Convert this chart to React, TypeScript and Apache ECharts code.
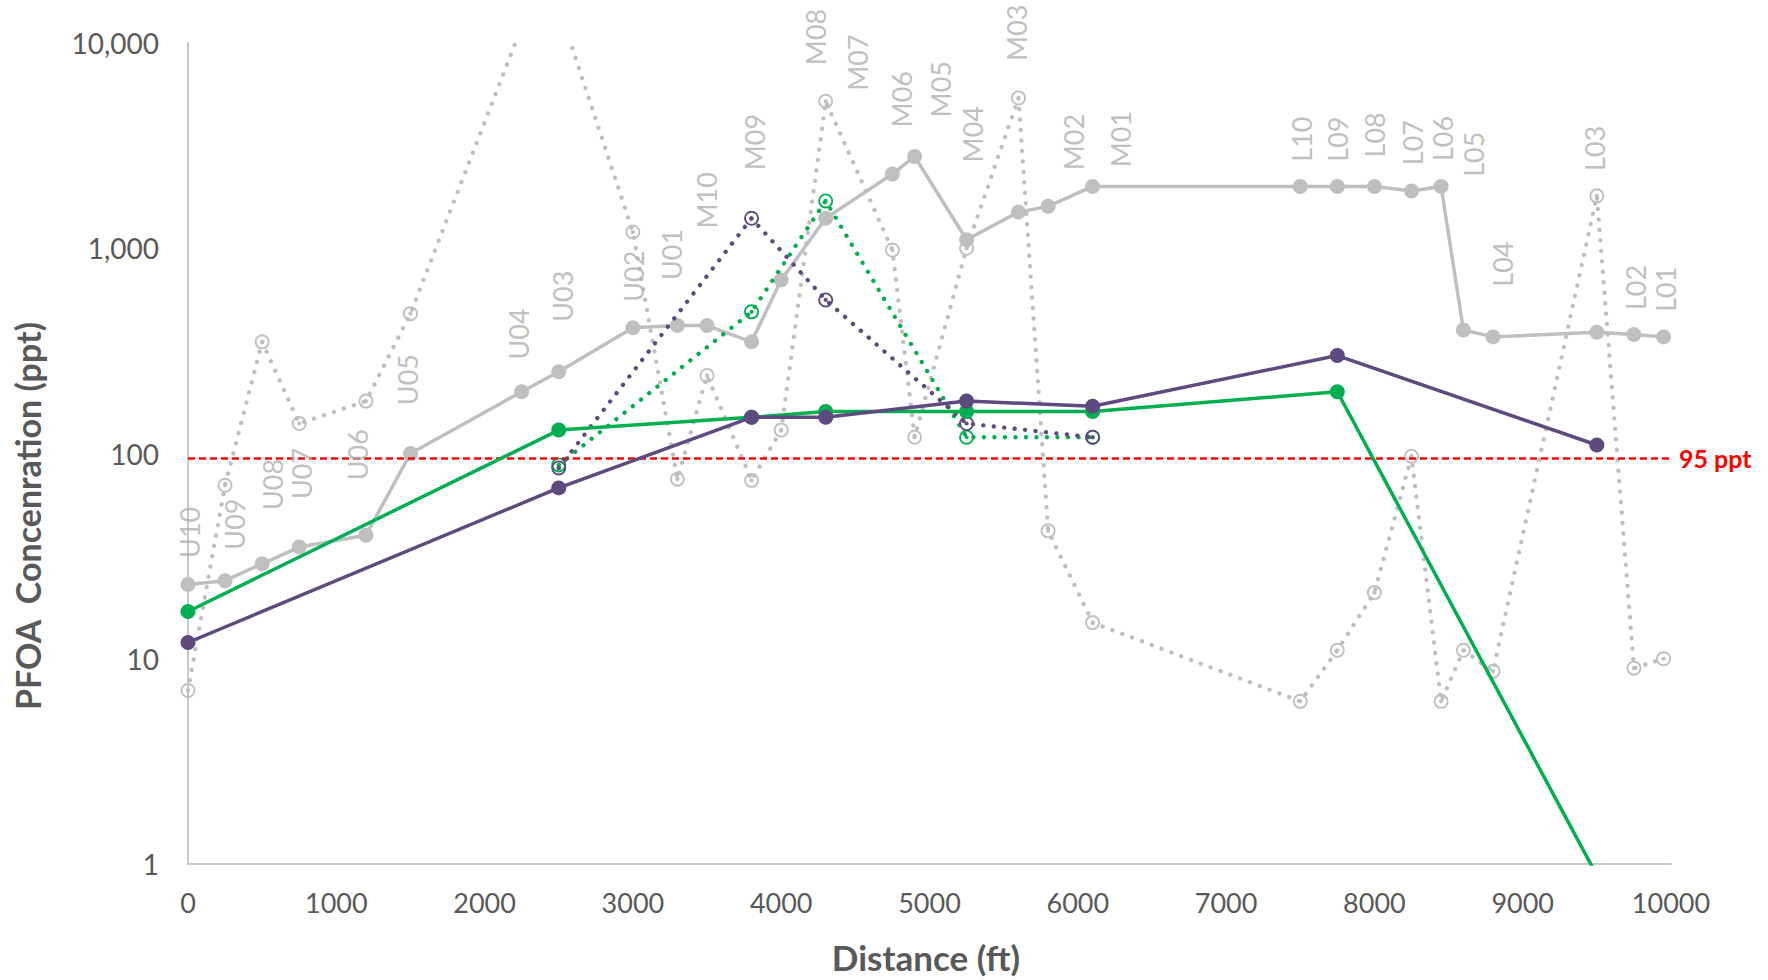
import React, { useEffect, useRef } from 'react';
import * as echarts from 'echarts';

// ---- Data ----
const stationNames = ['U10','U09','U08','U07','U06','U05','U04','U03','U02','U01','M10','M09','M08','M07','M06','M05','M04','M03','M02','M01','L10','L09','L08','L07','L06','L05','L04','L03','L02','L01'];
const stationDistance = [0, 250, 500, 750, 1200, 1500, 2250, 2500, 3000, 3300, 3500, 3800, 4000, 4300, 4750, 4900, 5250, 5600, 5800, 6100, 7500, 7750, 8000, 8250, 8450, 8600, 8800, 9500, 9750, 9950];
const graySolid = [23, 24, 29, 35, 40, 100, 200, 250, 410, 420, 420, 350, 700, 1400, 2300, 2800, 1100, 1500, 1600, 2000, 2000, 2000, 2000, 1900, 2000, 400, 370, 390, 380, 370];
const grayDotted = [7, 70, 350, 140, 180, 480, 12000, 15000, 1200, 75, 240, 74, 130, 5200, 980, 120, 1000, 5400, 42, 15, 6.2, 11, 21, 97, 6.2, 11, 8.7, 1800, 9, 10];

const sampleDistance = [0, 2500, 3800, 4300, 5250, 6100, 7750, 9500];
const purpleSolid = [12, 68, 150, 150, 180, 170, 300, 110];
const greenSolid = [17, 130, 150, 160, 160, 160, 200, 0.88];

const dottedDistance = [2500, 3800, 4300, 5250, 6100];
const purpleDotted = [85, 1400, 560, 140, 120];
const greenDotted = [88, 490, 1700, 120, 120];

const threshold = 95;
const xTicks = { min: 0, max: 10000, interval: 1000 };
const yTicks = { min: 1, max: 10000 };

// label anchors (where each station name sits), in chart units
const labelAnchorFt = [10, 316, 570, 768, 1142, 1478, 2227, 2524, 3007, 3260, 3498, 3820, 4234, 4513, 4810, 5073, 5293, 5584, 5972, 6290, 7507, 7754, 7999, 8258, 8459, 8666, 8862, 9485, 9758, 9960];
const labelAnchorPpt = [31, 34, 53, 60, 74, 172, 287, 438, 548, 700, 1248, 2400, 7800, 5850, 3880, 4340, 2620, 8180, 2400, 2480, 2640, 2640, 2770, 2540, 2660, 2230, 650, 2380, 500, 490];

// ---- Styles ----
const FONT = 'Lato';
const GRAY = '#BFBFBF';
const PURPLE = '#5E4A7F';
const GREEN = '#00B050';
const TEXT = '#595959';
const RING = 'path://M10 0A10 10 0 1 1 -10 0A10 10 0 1 1 10 0ZM7.5 0A7.5 7.5 0 1 0 -7.5 0A7.5 7.5 0 1 0 7.5 0ZM2.8 0A2.8 2.8 0 1 1 -2.8 0A2.8 2.8 0 1 1 2.8 0Z';
const DOTS = [0.1, 10.4];

const zip = (xs: number[], ys: number[]) => xs.map((x, i) => [x, ys[i]]);

function dottedSeries(name: string, xs: number[], ys: number[], color: string, z: number) {
  return {
    name,
    type: 'line',
    data: zip(xs, ys),
    symbol: RING,
    symbolSize: 15,
    showAllSymbol: true,
    itemStyle: { color, borderWidth: 0 },
    lineStyle: { color, width: 4.3, type: DOTS, cap: 'round' },
    z,
  };
}

function solidSeries(name: string, xs: number[], ys: number[], color: string, z: number) {
  return {
    name,
    type: 'line',
    data: zip(xs, ys),
    symbol: 'circle',
    symbolSize: 15,
    showAllSymbol: true,
    itemStyle: { color, borderWidth: 0 },
    lineStyle: { color, width: 3.5 },
    z,
  };
}

export default function App() {
  const ref = useRef<HTMLDivElement>(null);
  useEffect(() => {
    document.body.style.margin = '0';
    document.body.style.overflow = 'hidden';
    const chart = echarts.init(ref.current!, null, { renderer: 'svg' });
    const option: any = {
      animation: false,
      backgroundColor: '#ffffff',
      grid: { left: 188, right: 97, top: 43, bottom: 116, containLabel: false },
      xAxis: {
        type: 'value',
        min: xTicks.min,
        max: xTicks.max,
        interval: xTicks.interval,
        axisLine: { show: true, lineStyle: { color: '#C8C8C8', width: 2 } },
        axisTick: { show: false },
        splitLine: { show: false },
        axisLabel: {
          color: TEXT,
          fontSize: 27,
          fontFamily: FONT,
          margin: 25,
          formatter: (v: number) => String(Math.round(v)),
        },
      },
      yAxis: {
        type: 'log',
        logBase: 10,
        min: yTicks.min,
        max: yTicks.max,
        axisLine: { show: true, onZero: false, lineStyle: { color: '#C8C8C8', width: 2 } },
        axisTick: { show: false },
        splitLine: { show: false },
        axisLabel: {
          color: TEXT,
          fontSize: 28,
          fontFamily: FONT,
          margin: 29,
          formatter: (v: number) => Math.round(v).toLocaleString('en-US'),
        },
      },
      graphic: [
        {
          type: 'text',
          x: 27,
          y: 516,
          rotation: Math.PI / 2,
          style: {
            text: 'PFOA  Concenration (ppt)',
            font: `bold 34px ${FONT}`,
            fill: TEXT,
            textAlign: 'center',
            textVerticalAlign: 'middle',
          },
        },
        {
          type: 'text',
          x: 926,
          y: 957,
          style: {
            text: 'Distance (ft)',
            font: `bold 35px ${FONT}`,
            fill: TEXT,
            textAlign: 'center',
            textVerticalAlign: 'middle',
          },
        },
      ],
      series: [
        {
          ...dottedSeries('Gray dotted', stationDistance, grayDotted, GRAY, 2),
          markLine: {
            silent: true,
            symbol: 'none',
            lineStyle: { color: '#FF0000', width: 2.6, type: [7, 4] },
            label: {
              show: true,
              position: 'end',
              distance: 8,
              formatter: '95 ppt',
              color: '#FF0000',
              fontWeight: 'bold',
              fontSize: 25,
              fontFamily: FONT,
            },
            data: [{ yAxis: threshold }],
          },
        },
        solidSeries('Gray solid', stationDistance, graySolid, GRAY, 3),
        dottedSeries('Green dotted', dottedDistance, greenDotted, GREEN, 4),
        dottedSeries('Purple dotted', dottedDistance, purpleDotted, PURPLE, 5),
        solidSeries('Green solid', sampleDistance, greenSolid, GREEN, 6),
        solidSeries('Purple solid', sampleDistance, purpleSolid, PURPLE, 7),
        {
          name: 'Station labels',
          type: 'scatter',
          data: labelAnchorFt.map((x, i) => ({ value: [x, labelAnchorPpt[i]], name: stationNames[i] })),
          symbolSize: 1,
          itemStyle: { color: 'rgba(0,0,0,0)' },
          silent: true,
          label: {
            show: true,
            formatter: (p: any) => p.name,
            position: 'inside',
            rotate: 90,
            align: 'left',
            verticalAlign: 'middle',
            color: '#AFAFAF',
            fontSize: 27,
            fontFamily: FONT,
          },
          z: 8,
        },
      ],
    };
    chart.setOption(option);
    return () => chart.dispose();
  }, []);
  return <div ref={ref} style={{ width: 1768, height: 980 }} />;
}
